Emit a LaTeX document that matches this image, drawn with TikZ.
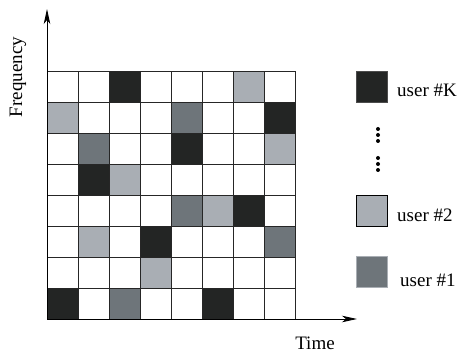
\documentclass[tikz,border=0pt]{standalone}
\usepackage{fontspec}
\setmainfont{Liberation Serif}
\usetikzlibrary{arrows.meta,positioning}
\definecolor{SlotBlack}{RGB}{35,37,36}
\definecolor{SlotLight}{RGB}{169,174,180}
\definecolor{SlotDark}{RGB}{110,117,122}

\begin{document}
\begin{tikzpicture}[
        x=1pt, y=1pt,
        font=\fontsize{19}{22}\selectfont,
        gridline/.style={
            draw=black!85,
            line width=0.9pt
        },
        axis/.style={
            -{Stealth[length=15pt,width=6.5pt,inset=4pt]},
            draw=black,
            line width=0.9pt
        },
        key/.style={
            minimum size=31pt,
            inner sep=0pt,
            line width=0.9pt
        },
        keytext/.style={
            anchor=west,
            inner sep=0pt
        },
        keydot/.style={
            fill=black,
            circle,
            inner sep=0pt,
            minimum size=4pt
        }
    ]
    \useasboundingbox (0,0) rectangle (460,358);

    % Occupied time-frequency slots (column/row counted from top left)
    \foreach \c/\r/\shade in {
        3/1/SlotBlack, 7/1/SlotLight,
        1/2/SlotLight, 5/2/SlotDark, 8/2/SlotBlack,
        2/3/SlotDark, 5/3/SlotBlack, 8/3/SlotLight,
        2/4/SlotBlack, 3/4/SlotLight,
        5/5/SlotDark, 6/5/SlotLight, 7/5/SlotBlack,
        2/6/SlotLight, 4/6/SlotBlack, 8/6/SlotDark,
        4/7/SlotLight,
        1/8/SlotBlack, 3/8/SlotDark, 6/8/SlotBlack}
        \fill[\shade] ({47+31*(\c-1)},{287-31*\r}) rectangle +(31,31);

    % Grid
    \foreach \i in {0,...,8} {
        \draw[gridline] ({47+31*\i},39) -- ({47+31*\i},287);
        \draw[gridline] (47,{39+31*\i}) -- (295,{39+31*\i});
    }

    % Axes
    \coordinate (origin) at (47,39);
    \coordinate (ftip) at (47,349);
    \coordinate (ttip) at (357,39);
    \draw[axis] (origin) -- (ftip);
    \draw[axis] (origin) -- (ttip);

    \node[rotate=90] (freqlabel) at (18,281) {Frequency};
    \node (timelabel) at (315,15) {Time};

    % Legend
    \node[key, fill=SlotBlack, draw=black!70] (keyK) at (372,271.5) {};
    \node[keytext] (userK) at (397,268) {user \#K};

    \foreach \y in {229,223,217,200,194,188}
        \node[keydot] (dot\y) at (378,\y) {};

    \node[key, fill=SlotLight, draw=black] (key2) at (372,147.5) {};
    \node[keytext] (user2) at (397,143) {user \#2};

    \node[key, fill=SlotDark, draw=SlotLight] (key1) at (372,86) {};
    \node[keytext] (user1) at (400,78) {user \#1};

\end{tikzpicture}
\end{document}
